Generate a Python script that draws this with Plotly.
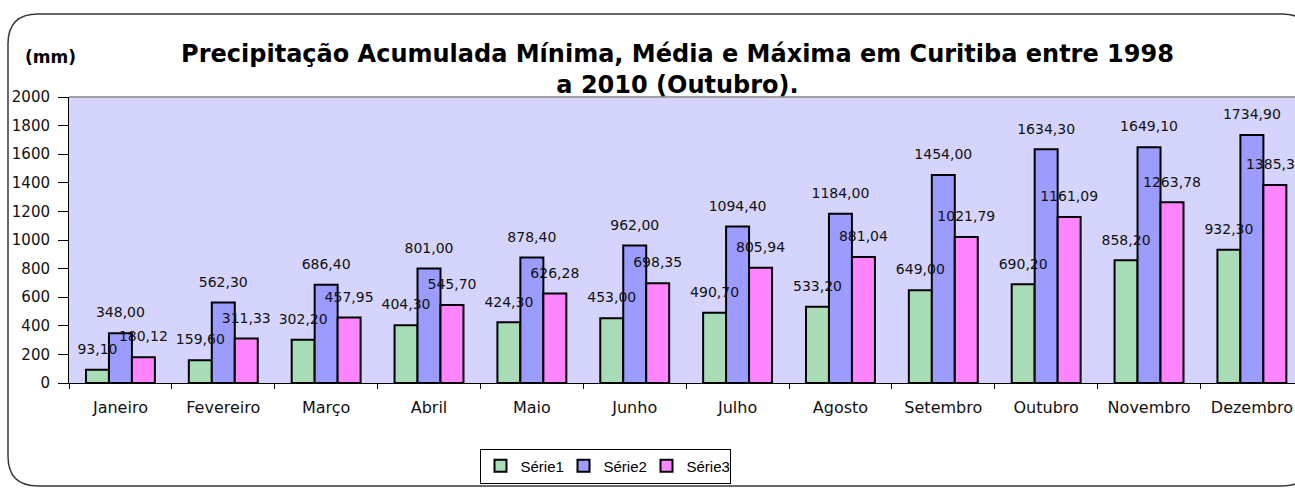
import plotly.graph_objects as go

months = ["Janeiro", "Fevereiro", "Março", "Abril", "Maio", "Junho",
          "Julho", "Agosto", "Setembro", "Outubro", "Novembro", "Dezembro"]
serie1 = [93.10, 159.60, 302.20, 404.30, 424.30, 453.00, 490.70, 533.20, 649.00, 690.20, 858.20, 932.30]
serie2 = [348.00, 562.30, 686.40, 801.00, 878.40, 962.00, 1094.40, 1184.00, 1454.00, 1634.30, 1649.10, 1734.90]
serie3 = [180.12, 311.33, 457.95, 545.70, 626.28, 698.35, 805.94, 881.04, 1021.79, 1161.09, 1263.78, 1385.35]
series_names = ["Série1", "Série2", "Série3"]
y_ticks = [0, 200, 400, 600, 800, 1000, 1200, 1400, 1600, 1800, 2000]

colors = ["#a8dcb6", "#9c9cff", "#ff84ff"]

W, H = 1295, 488
ML, MT, MB, MR = 69, 97, 105, 0
PW = W - ML - MR
PH = H - MT - MB


def fmt(v):
    return f"{v:.2f}".replace(".", ",")


fig = go.Figure()
for name, vals, col in zip(series_names, [serie1, serie2, serie3], colors):
    fig.add_trace(go.Bar(
        name=name, x=months, y=vals,
        marker=dict(color=col, line=dict(color="black", width=2)),
        hoverinfo="skip",
    ))
for name, vals in zip(series_names, [serie1, serie2, serie3]):
    fig.add_trace(go.Scatter(
        x=months, y=vals, mode="markers+text",
        text=[fmt(v) for v in vals], textposition="top center",
        textfont=dict(family="DejaVu Sans", size=14, color="#111111"),
        marker=dict(size=18, color="rgba(0,0,0,0)"),
        showlegend=False, hoverinfo="skip", cliponaxis=False,
    ))


def px(x, y):
    return (x - ML) / PW, (H - MB - y) / PH


def P(x, y):
    a, b = px(x, y)
    return f"{a:.5f},{b:.5f}"


r = 30
L, T, R, B = 8, 14, 1312, 486
path = (f"M {P(L, T + r)} Q {P(L, T)} {P(L + r, T)} L {P(R - r, T)} Q {P(R, T)} {P(R, T + r)} "
        f"L {P(R, B - r)} Q {P(R, B)} {P(R - r, B)} L {P(L + r, B)} Q {P(L, B)} {P(L, B - r)} Z")

mm_x, mm_y = px(50, 57)

fig.update_layout(
    width=W, height=H, autosize=False,
    margin=dict(l=ML, r=MR, t=MT, b=MB, pad=0),
    paper_bgcolor="white", plot_bgcolor="#d4d4fc",
    barmode="group", bargap=0.33, bargroupgap=0, scattermode="group",
    title=dict(
        text="Precipitação Acumulada Mínima, Média e Máxima em Curitiba entre 1998<br>a 2010 (Outubro).",
        x=677.5 / W, xanchor="center", xref="container",
        y=1 - 62 / H, yanchor="top", yref="container",
        font=dict(family="DejaVu Sans", size=24, color="black", weight="bold"),
    ),
    xaxis=dict(
        type="category", range=[-0.5, -0.5 + PW / 102.86],
        showline=True, linecolor="black", linewidth=1,
        ticks="outside", tickson="boundaries", ticklen=5, tickcolor="black",
        tickfont=dict(family="DejaVu Sans", size=16, color="#111111"),
        ticklabelstandoff=10, showgrid=False,
    ),
    yaxis=dict(
        range=[0, 2000], tickvals=y_ticks, ticktext=[str(t) for t in y_ticks],
        showline=True, linecolor="black", linewidth=1,
        ticks="outside", ticklen=10, tickcolor="black",
        tickfont=dict(family="DejaVu Sans", size=15, color="#111111"),
        ticklabelstandoff=5,
        showgrid=False, zeroline=False,
    ),
    legend=dict(
        orientation="h", x=(605 - ML) / PW, xanchor="center",
        y=px(0, 466)[1], yanchor="middle",
        bordercolor="black", borderwidth=1, bgcolor="white",
        font=dict(family="Liberation Sans", size=15, color="black"),
        itemwidth=30, traceorder="normal", entrywidth=38,
    ),
    shapes=[
        dict(type="path", xref="paper", yref="paper", path=path,
             line=dict(color="#3a3a3a", width=1.5), fillcolor="rgba(0,0,0,0)", layer="below"),
        dict(type="line", xref="paper", yref="paper", x0=0, x1=1, y0=1, y1=1,
             line=dict(color="#a0a0a0", width=2)),
    ],
    annotations=[
        dict(text="(mm)", xref="paper", yref="paper", x=mm_x, y=mm_y,
             xanchor="center", yanchor="middle", showarrow=False,
             font=dict(family="DejaVu Sans", size=17, color="black", weight="bold")),
    ],
)

fig.write_html(
    "out.html",
    config={"displayModeBar": False},
    post_script="document.body.style.margin='0';document.body.style.overflow='hidden';",
)
